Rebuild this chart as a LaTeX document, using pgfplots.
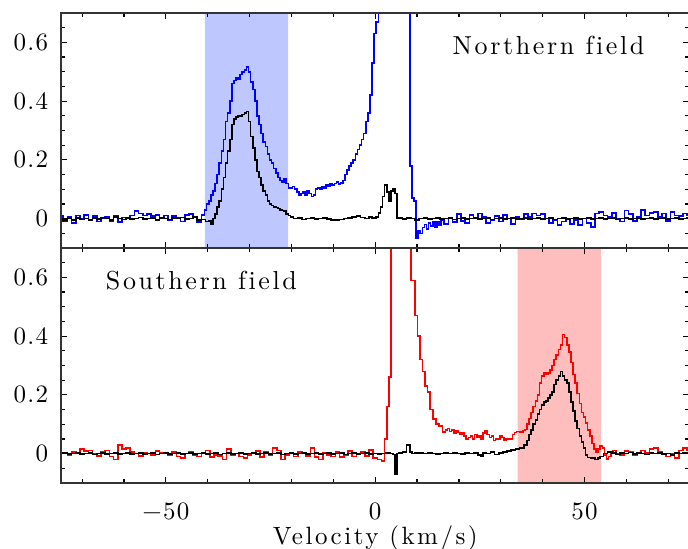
\documentclass[border=0pt]{standalone}
\usepackage{fontspec}
\usepackage{pgfplots}
\pgfplotsset{compat=1.18}
\newfontfamily\lmwide{lmroman10-regular.otf}[LetterSpace=10, Ligatures=NoCommon]
\newfontfamily\lmtick{lmroman10-regular.otf}[LetterSpace=5]
\definecolor{shadeblue}{RGB}{190,200,255}
\definecolor{shadered}{RGB}{255,190,190}
\newcommand{\tickfont}{\fontsize{12.5}{14}\lmtick}
\newcommand{\txtfont}{\fontsize{13}{15}\lmwide}
\begin{document}
\begin{tikzpicture}
\pgfplotsset{
  myaxis/.style={
    scale only axis, width=314pt, height=117.5pt,
    xmin=-75, xmax=75, ymin=-0.1, ymax=0.7,
    xtick={-50,0,50}, minor xtick={-70,-60,-40,-30,-20,-10,10,20,30,40,60,70},
    ytick={0,0.2,0.4,0.6}, yticklabels={{\tickfont 0},{\tickfont 0.2},{\tickfont 0.4},{\tickfont 0.6}},
    minor ytick={-0.05,0.05,0.1,0.15,0.25,0.3,0.35,0.45,0.5,0.55,0.65},
    major tick length=3pt, minor tick length=2pt,
    tick style={black, line width=0.6pt},
    axis line style={line width=0.9pt, black!80},
    tick align=inside,
    yticklabel style={xshift=-3pt},
    xticklabel style={yshift=-6.5pt},
    axis on top,
    every axis plot/.append style={line width=0.8pt, const plot mark mid},
  }
}
\begin{axis}[myaxis, name=top, xticklabels={}]
\addplot[draw=none, fill=shadeblue] coordinates {(-40.7,-0.1) (-40.7,0.7) (-20.8,0.7) (-20.8,-0.1)} -- cycle;
\addplot[blue] coordinates {
(-75,0.010)(-74,-0.010)(-73,0.005)(-72,-0.015)(-71,0.010)(-70,0.000)(-69,0.012)(-68,-0.005)(-67,0.008)(-66,-0.010)
(-65,0.000)(-64,0.005)(-63,-0.008)(-62,0.010)(-61,-0.012)(-60,0.004)(-59,0.000)(-58,0.010)(-57,0.025)(-56,0.018)
(-55,0.010)(-54,0.015)(-53,0.008)(-52,0.012)(-51,0.000)(-50,0.010)(-49,-0.006)(-48,0.008)(-47,0.002)(-46,-0.010)
(-45,0.012)(-44,0.016)(-43,0.004)(-42,-0.012)(-41,0.012)(-40.5,0.030)(-40,0.050)(-39.5,0.060)(-39,0.080)(-38.5,0.095)
(-38,0.120)(-37.5,0.150)(-37,0.190)(-36.5,0.230)(-36,0.270)(-35.5,0.330)(-35,0.360)(-34.5,0.400)(-34,0.460)(-33.5,0.470)
(-33,0.480)(-32.5,0.475)(-32,0.490)(-31.5,0.500)(-31,0.505)(-30.5,0.517)(-30,0.500)(-29.5,0.465)(-29,0.440)(-28.5,0.400)
(-28,0.350)(-27.5,0.320)(-27,0.290)(-26.5,0.260)(-26,0.245)(-25.5,0.220)(-25,0.200)(-24.5,0.190)(-24,0.170)(-23.5,0.155)
(-23,0.140)(-22.5,0.130)(-22,0.125)(-21.5,0.135)(-21,0.120)(-20.5,0.105)(-20,0.105)(-19.5,0.110)(-19,0.100)(-18.5,0.090)
(-18,0.080)(-17.5,0.085)(-17,0.090)(-16.5,0.080)(-16,0.095)(-15.5,0.085)(-15,0.075)(-14.5,0.080)(-14,0.100)(-13.5,0.105)
(-13,0.100)(-12.5,0.110)(-12,0.105)(-11.5,0.115)(-11,0.110)(-10.5,0.120)(-10,0.115)(-9.5,0.120)(-9,0.125)(-8.5,0.118)
(-8,0.122)(-7.5,0.130)(-7,0.150)(-6.5,0.165)(-6,0.180)(-5.5,0.190)(-5,0.200)(-4.5,0.220)(-4,0.235)(-3.5,0.250)
(-3,0.270)(-2.5,0.290)(-2,0.330)(-1.5,0.360)(-1,0.420)(-0.5,0.530)(0,0.630)(0.5,0.670)(1,1.2)(2,1.2)(4,1.2)(6,1.2)(8,1.2)
(8.5,0.180)(9,0.070)(9.5,0.060)(10,-0.065)(10.5,-0.040)(11,-0.050)(11.5,-0.030)(12,-0.020)(12.5,-0.035)(13,-0.015)
(13.5,-0.025)(14,-0.010)(14.5,-0.028)(15,-0.010)(15.5,-0.022)(16,-0.005)(17,-0.018)(18,0.000)(19,-0.012)(20,0.015)
(21,-0.008)(22,-0.015)(23,0.012)(24,0.000)(25,0.018)(26,0.005)(27,-0.015)(28,-0.005)(29,0.008)(30,-0.010)
(31,0.012)(32,0.000)(33,-0.018)(34,0.005)(35,-0.002)(36,0.015)(37,0.006)(38,0.018)(39,0.010)(40,0.015)
(41,0.000)(42,-0.015)(43,-0.005)(44,-0.022)(45,-0.010)(46,0.000)(47,-0.018)(48,-0.005)(49,-0.022)(50,0.000)
(51,-0.015)(52,-0.028)(53,0.018)(54,0.022)(55,0.010)(56,0.005)(57,0.020)(58,0.000)(59,-0.010)(60,0.028)
(61,0.015)(62,-0.008)(63,0.005)(64,0.030)(65,0.010)(66,0.020)(67,0.022)(68,0.005)(69,0.018)(70,-0.008)
(71,0.022)(72,0.010)(73,0.008)(74,0.018)(75,0.010)};
\addplot[black] coordinates {
(-75,0.000)(-74,-0.005)(-73,0.003)(-72,-0.004)(-71,0.002)(-70,-0.003)(-69,0.000)(-68,-0.004)(-67,0.002)(-66,-0.002)
(-65,0.004)(-64,0.000)(-63,-0.005)(-62,0.005)(-61,0.000)(-60,-0.003)(-59,0.003)(-58,-0.002)(-57,0.000)(-56,0.004)
(-55,-0.002)(-54,0.000)(-53,0.003)(-52,-0.004)(-51,0.002)(-50,0.000)(-49,-0.003)(-48,0.003)(-47,0.000)(-46,0.004)
(-45,-0.002)(-44,0.000)(-43,0.005)(-42,-0.005)(-41,-0.003)(-40,-0.010)(-39.5,-0.006)(-39,-0.018)(-38.5,0.000)(-38,0.015)
(-37.5,0.040)(-37,0.060)(-36.5,0.100)(-36,0.140)(-35.5,0.190)(-35,0.230)(-34.5,0.270)(-34,0.320)(-33.5,0.340)(-33,0.345)
(-32.5,0.350)(-32,0.350)(-31.5,0.355)(-31,0.360)(-30.5,0.365)(-30,0.330)(-29.5,0.280)(-29,0.240)(-28.5,0.200)(-28,0.160)
(-27.5,0.140)(-27,0.115)(-26.5,0.095)(-26,0.080)(-25.5,0.060)(-25,0.050)(-24.5,0.045)(-24,0.040)(-23.5,0.038)(-23,0.035)
(-22.5,0.030)(-22,0.028)(-21.5,0.025)(-21,0.015)(-20.5,0.010)(-20,0.005)(-19,0.000)(-18,0.002)(-17,-0.003)(-16,0.000)
(-15,0.002)(-14,-0.002)(-13,0.000)(-12,0.003)(-11,-0.002)(-10,-0.004)(-9,-0.005)(-8,-0.003)(-7,0.000)(-6,0.002)
(-5,0.005)(-4,0.008)(-3,0.004)(-2,0.000)(-1,0.005)(-0.5,0.003)(0,0.000)(0.5,0.005)(1,0.020)(1.5,0.040)
(2,0.075)(2.5,0.115)(3,0.090)(3.5,0.060)(4,0.095)(4.5,0.100)(5,0.085)(5.5,0.000)(6,0.003)(7,-0.002)
(8,0.003)(9,0.000)(10,-0.004)(11,0.000)(12,0.002)(13,-0.002)(14,0.000)(15,0.003)(16,-0.002)(17,0.000)
(18,0.002)(19,-0.003)(20,0.000)(21,0.002)(22,-0.002)(23,0.000)(24,0.003)(25,-0.002)(26,0.000)(27,0.002)
(28,-0.003)(29,0.000)(30,0.002)(31,-0.002)(32,0.000)(33,0.003)(34,-0.002)(35,0.000)(36,0.002)(37,-0.002)
(38,0.000)(39,0.003)(40,-0.002)(41,0.000)(42,0.002)(43,-0.003)(44,0.000)(45,0.002)(46,-0.002)(47,0.000)
(48,0.003)(49,-0.002)(50,0.000)(51,0.002)(52,-0.002)(53,0.000)(54,0.003)(55,-0.002)(56,0.000)(57,0.002)
(58,-0.003)(59,0.000)(60,0.002)(61,-0.002)(62,0.000)(63,0.003)(64,-0.002)(65,0.000)(66,0.002)(67,-0.002)
(68,0.000)(69,0.003)(70,-0.002)(71,0.000)(72,0.002)(73,-0.002)(74,0.000)(75,0.002)};
\node[anchor=base west] at (axis cs:16.8,0.557) {\txtfont Northern field};
\end{axis}
\begin{axis}[myaxis, name=bottom, at={(top.south west)}, anchor=north west,
  xticklabels={{\tickfont −50},{\tickfont 0},{\tickfont 50}},
  xlabel={\fontsize{12.5}{15}\lmwide Velocity (km/s)},
  xlabel style={at={(axis description cs:0.5,0)}, anchor=base, yshift=-31pt}]
\addplot[draw=none, fill=shadered] coordinates {(34,-0.1) (34,0.7) (53.9,0.7) (53.9,-0.1)} -- cycle;
\addplot[red] coordinates {
(-75,0.000)(-74,0.003)(-73,-0.005)(-72,0.005)(-71,0.000)(-70,0.015)(-69,0.008)(-68,0.010)(-67,0.000)(-66,-0.008)
(-65,0.005)(-64,0.010)(-63,-0.010)(-62,-0.020)(-61,0.030)(-60,0.015)(-59,0.020)(-58,0.005)(-57,0.000)(-56,-0.008)
(-55,0.003)(-54,0.000)(-53,-0.005)(-52,0.008)(-51,0.004)(-50,0.000)(-49,-0.005)(-48,0.006)(-47,-0.010)(-46,-0.015)
(-45,0.000)(-44,0.005)(-43,-0.005)(-42,-0.010)(-41,0.000)(-40,0.010)(-39,-0.012)(-38,-0.005)(-37,-0.008)(-36,-0.020)
(-35,0.015)(-34,-0.005)(-33,0.000)(-32,-0.010)(-31,-0.015)(-30,-0.005)(-29,0.000)(-28,0.008)(-27,-0.012)(-26,0.005)
(-25,-0.005)(-24,0.020)(-23,0.010)(-22,-0.020)(-21,-0.005)(-20,0.000)(-19,-0.010)(-18,0.006)(-17,0.003)(-16,-0.008)
(-15,0.020)(-14,-0.012)(-13,-0.020)(-12,0.002)(-11,-0.005)(-10,-0.010)(-9,0.005)(-8,-0.012)(-7,-0.005)(-6,0.008)
(-5,-0.010)(-4,0.000)(-3,0.006)(-2,-0.008)(-1,0.012)(0,-0.015)(1,-0.020)(2,-0.025)(2.5,0.050)(3,0.160)
(3.5,0.260)(4,1.2)(6,1.2)(8,1.2)(9.2,0.590)(9.8,0.470)(10.4,0.400)(11,0.320)(11.5,0.280)(12.2,0.230)
(12.8,0.210)(13.4,0.150)(14.2,0.118)(14.9,0.100)(15.7,0.095)(16.5,0.073)(17,0.080)(17.5,0.085)(18,0.075)(18.5,0.080)
(19,0.070)(19.5,0.078)(20,0.072)(20.5,0.065)(21,0.070)(21.5,0.060)(22,0.050)(22.5,0.055)(23,0.060)(23.5,0.050)
(24,0.065)(24.5,0.055)(25,0.060)(25.5,0.050)(26,0.070)(26.5,0.078)(27,0.065)(27.5,0.055)(28,0.060)(28.5,0.045)
(29,0.050)(29.5,0.050)(30,0.060)(30.5,0.055)(31,0.045)(31.5,0.050)(32,0.048)(32.5,0.050)(33,0.065)(33.5,0.072)
(34,0.075)(35,0.073)(35.5,0.078)(36,0.082)(36.5,0.100)(37,0.120)(37.5,0.140)(38,0.160)(38.5,0.180)(39,0.200)
(39.5,0.240)(40,0.265)(40.5,0.275)(41,0.270)(41.5,0.275)(42,0.285)(42.5,0.300)(43,0.320)(43.5,0.335)(44,0.355)
(44.5,0.370)(45,0.405)(45.5,0.395)(46,0.370)(46.5,0.345)(47,0.310)(47.5,0.270)(48,0.240)(48.5,0.205)(49,0.170)
(49.5,0.140)(50,0.125)(50.5,0.105)(51,0.080)(51.5,0.060)(52,0.035)(52.5,0.015)(53,0.005)(53.5,0.015)(54,0.025)
(54.5,0.020)(55,-0.005)(55.5,-0.018)(56,-0.010)(56.5,0.005)(57,0.010)(58,0.000)(59,-0.005)(60,0.008)(61,0.005)
(62,-0.005)(63,0.000)(64,0.010)(65,0.002)(66,0.015)(67,0.020)(68,0.005)(69,-0.003)(70,-0.010)(71,0.000)
(72,-0.015)(73,0.010)(74,0.020)(75,0.010)};
\addplot[black] coordinates {
(-75,0.000)(-74,0.002)(-73,-0.002)(-72,0.000)(-71,0.003)(-70,-0.002)(-69,0.000)(-68,0.002)(-67,-0.003)(-66,0.000)
(-65,0.002)(-64,-0.002)(-63,0.000)(-62,0.003)(-61,-0.002)(-60,0.000)(-59,0.002)(-58,-0.002)(-57,0.000)(-56,0.003)
(-55,-0.002)(-54,0.000)(-53,0.002)(-52,-0.003)(-51,0.000)(-50,0.002)(-49,-0.002)(-48,0.000)(-47,0.003)(-46,-0.002)
(-45,0.000)(-44,0.002)(-43,-0.002)(-42,0.000)(-41,0.003)(-40,-0.002)(-39,0.000)(-38,0.002)(-37,-0.003)(-36,0.000)
(-35,0.002)(-34,-0.002)(-33,0.000)(-32,0.003)(-31,-0.002)(-30,0.000)(-29,0.002)(-28,-0.002)(-27,0.000)(-26,0.003)
(-25,-0.002)(-24,0.000)(-23,0.002)(-22,-0.003)(-21,0.000)(-20,0.002)(-19,-0.002)(-18,0.000)(-17,0.003)(-16,-0.002)
(-15,0.000)(-14,0.002)(-13,-0.002)(-12,0.000)(-11,0.003)(-10,-0.002)(-9,0.000)(-8,0.002)(-7,-0.003)(-6,0.000)
(-5,0.002)(-4,-0.002)(-3,0.000)(-2,0.003)(-1,-0.002)(0,0.000)(1,-0.002)(2,0.000)(3,0.002)(4,0.000)
(4.5,-0.003)(5,-0.070)(5.5,0.000)(6,0.003)(7,0.005)(8,0.030)(8.5,0.005)(9,0.000)(10,0.003)(11,0.002)
(12,0.000)(13,0.003)(14,0.001)(15,-0.002)(16,0.000)(17,0.002)(18,0.000)(19,0.003)(20,0.000)(21,-0.002)
(22,0.002)(23,0.000)(24,0.003)(25,-0.005)(25.5,-0.010)(26,0.003)(27,0.000)(28,0.005)(29,-0.003)(30,0.002)
(31,0.005)(32,0.008)(33,0.012)(34,0.015)(35,0.020)(36,0.030)(36.5,0.045)(37,0.065)(37.5,0.080)(38,0.100)
(38.5,0.115)(39,0.135)(39.5,0.150)(40,0.165)(40.5,0.175)(41,0.180)(41.5,0.190)(42,0.200)(42.5,0.210)(43,0.235)
(43.5,0.250)(44,0.265)(44.5,0.280)(45,0.265)(45.5,0.250)(46,0.240)(46.5,0.210)(47,0.175)(47.5,0.145)(48,0.110)
(48.5,0.085)(49,0.060)(49.5,0.040)(50,0.020)(50.5,-0.005)(51,-0.013)(52,-0.015)(53,-0.020)(53.5,-0.015)(54,-0.010)
(55,0.000)(56,0.005)(57,0.002)(58,-0.003)(59,0.002)(60,0.000)(61,0.004)(62,-0.002)(63,0.002)(64,0.000)
(65,-0.003)(66,0.002)(67,0.000)(68,0.003)(69,-0.002)(70,0.000)(71,-0.005)(72,0.002)(73,0.000)(74,0.004)(75,0.002)};
\node[anchor=base west] at (axis cs:-66,0.557) {\txtfont Southern field};
\end{axis}
\pgfresetboundingbox
\path[use as bounding box] ([xshift=-30.6pt,yshift=6.5pt]top.north west) rectangle ++(344pt,-274.5pt);
\end{tikzpicture}
\end{document}
